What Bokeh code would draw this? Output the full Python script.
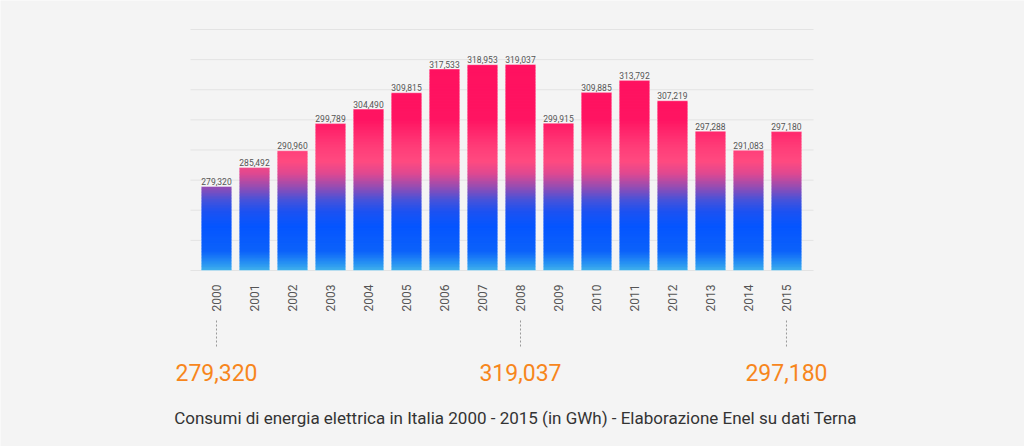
import math
from bokeh.plotting import figure
from bokeh.models import ColumnDataSource, Range1d, Label
from bokeh.core.properties import value
from bokeh.embed import file_html
from bokeh.resources import INLINE

# ---- data ----
years = [2000, 2001, 2002, 2003, 2004, 2005, 2006, 2007,
         2008, 2009, 2010, 2011, 2012, 2013, 2014, 2015]
year_labels = [str(y) for y in years]
consumption = [279320, 285492, 290960, 299789, 304490, 309815, 317533, 318953,
               319037, 299915, 309885, 313792, 307219, 297288, 291083, 297180]
grid_values = [252000 + i * 9800 for i in range(9)]
caption = "Consumi di energia elettrica in Italia 2000 - 2015 (in GWh) - Elaborazione Enel su dati Terna"

# ---- layout (pixels of the page) ----
BG = "#f4f4f4"
W, H = 1024, 446
FR_L, FR_R, FR_T, FR_B = 190, 813, 29, 270      # chart area
Y0, Y1 = grid_values[0], grid_values[-1]
X0, X1 = 1999.316, 2015.711
px_per_year = (FR_R - FR_L) / (X1 - X0)
units_per_px = (Y1 - Y0) / (FR_B - FR_T)

x_range = Range1d(X0 - FR_L / px_per_year, X1 + (W - FR_R) / px_per_year)
y_range = Range1d(Y0 - (H - FR_B) * units_per_px, Y1 + FR_T * units_per_px)

# gradient stops: (fraction of value range from bottom, colour)
stops = [(0.000, "#44b6ea"), (0.033, "#2892f2"), (0.083, "#0c62fa"),
         (0.187, "#0555ff"), (0.249, "#1c52f2"), (0.299, "#4a52d8"),
         (0.353, "#9a4cb0"), (0.407, "#e04890"), (0.456, "#ff4a80"),
         (0.519, "#ff3c78"), (0.631, "#ff1462"), (1.000, "#ff0f5e")]


def hex2rgb(h):
    return tuple(int(h[i:i + 2], 16) for i in (1, 3, 5))


def colour_at(f):
    for (f0, c0), (f1, c1) in zip(stops[:-1], stops[1:]):
        if f0 <= f <= f1:
            t = 0 if f1 == f0 else (f - f0) / (f1 - f0)
            a, b = hex2rgb(c0), hex2rgb(c1)
            return "#%02x%02x%02x" % tuple(round(a[i] + (b[i] - a[i]) * t) for i in range(3))
    return stops[-1][1]


NB = 160
step = (Y1 - Y0) / NB
bx, bb, bt, bc = [], [], [], []
for k in range(NB):
    lo = Y0 + k * step
    hi = lo + step
    col = colour_at((k + 0.5) / NB)
    for x, v in zip(years, consumption):
        if v > lo:
            bx.append(x)
            bb.append(max(Y0, lo - step * 0.6))
            bt.append(min(hi, v))
            bc.append(col)
bands = ColumnDataSource(dict(x=bx, bottom=bb, top=bt, color=bc))
bars = ColumnDataSource(dict(x=years, top=consumption,
                             label=[f"{v:,}" for v in consumption]))

p = figure(width=W, height=H, output_backend="svg", toolbar_location=None,
           x_range=x_range, y_range=y_range,
           x_axis_location=None, y_axis_location=None,
           min_border_left=0, min_border_right=0, min_border_top=0, min_border_bottom=0,
           background_fill_color=BG, border_fill_color=BG, outline_line_color=None)
p.grid.visible = False
# pixel-based range for the elements below the chart (0 = top of the page)
p.extra_y_ranges = {"px": Range1d(H, 0)}

# horizontal grid lines
p.segment(x0=X0, x1=X1, y0=grid_values, y1=grid_values,
          line_color="#e3e3e3", line_width=1)

p.vbar(x="x", bottom="bottom", top="top", width=0.8, fill_color="color",
       line_color=None, source=bands)
p.vbar(x="x", bottom=Y0, top="top", width=0.8, fill_color=None,
       line_color="#ffffff", line_alpha=0.35, line_width=1, source=bars)
p.text(x="x", y="top", text="label", source=bars, text_align="center",
       text_baseline="alphabetic", y_offset=-5, text_font_size="8.5px",
       text_color="#555555", text_font=value("Roboto"))

# year tick labels (vertical)
p.text(x=years, y=284, text=year_labels, y_range_name="px", angle=math.pi / 2,
       text_align="right", text_baseline="middle", text_font_size="12px",
       text_color="#555555", text_font=value("Roboto"))

# highlighted values: first, maximum, last
imax = consumption.index(max(consumption))
sel = [0, imax, len(years) - 1]
hl = ColumnDataSource(dict(x=[years[i] for i in sel],
                           label=[f"{consumption[i]:,}" for i in sel]))
p.segment(x0="x", x1="x", y0=320, y1=348, source=hl, y_range_name="px",
          line_color="#999999", line_width=1, line_dash="2 2")
p.text(x="x", y=371.5, text="label", source=hl, y_range_name="px",
       text_align="center", text_baseline="alphabetic", text_font_size="23px",
       text_color="#f7861c", text_font=value("Roboto"))

p.add_layout(Label(x=515, y=H - 417, x_units="screen", y_units="screen", text=caption,
                   text_align="center", text_baseline="alphabetic",
                   text_font_size="17px", text_color="#333333", text_font="Roboto"))

open("out.html", "w").write(file_html(p, INLINE))
